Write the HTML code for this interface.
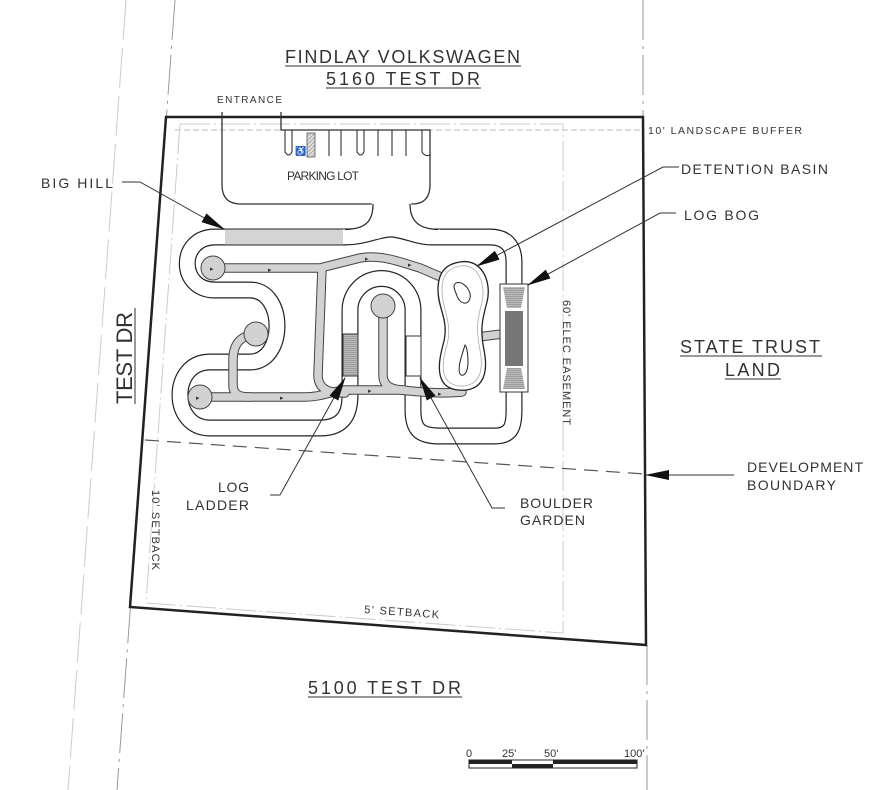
<!DOCTYPE html>
<html><head><meta charset="utf-8"><style>html,body{margin:0;padding:0;background:#fff}svg{display:block}text{font-family:"Liberation Sans",sans-serif;fill:#333}</style></head>
<body>
<svg width="885" height="790" viewBox="0 0 885 790" xmlns="http://www.w3.org/2000/svg">
<defs>
<marker id="ah" markerWidth="24" markerHeight="10" refX="23" refY="5" orient="auto" markerUnits="userSpaceOnUse"><path d="M0,0 L24,5 L0,10 Z" fill="#111"/></marker>
<pattern id="hatch" width="4" height="4" patternUnits="userSpaceOnUse"><rect width="4" height="4" fill="#ddd"/><path d="M0,4 L4,0" stroke="#999" stroke-width="0.7"/></pattern>
<pattern id="hz" width="4" height="2" patternUnits="userSpaceOnUse"><rect width="4" height="2" fill="#bbb"/><path d="M0,0.5 H4" stroke="#888" stroke-width="0.6"/></pattern>
<path id="trk" d="M345 237 L215 237 C178 237 178 290 215 290 L250 290 C286 290 286 362 250 362 L210 362 C170 362 170 428 210 428 L320 428 C345 428 350 412 350 395 L350 310 A31.5 31.5 0 0 1 413 310 L413 410 C413 430 420 436 440 436 L495 436 C512 436 514 425 514 410 L514 262 C514 245 505 237 490 237 L432 237 C418 237 405 230 392 229 C378 229 365 237 345 237 Z"/>
<path id="t1" d="M213 268 L320 268 L360 258 C380 254 400 262 420 268 L448 280"/>
<path id="t2" d="M322 268 L318 375 C318 390 330 393 345 393"/>
<path id="t3" d="M200 397 L305 397 C320 397 330 392 345 390 L400 390 C420 392 440 394 462 392"/>
<path id="t4" d="M383 308 L383 375 C383 388 395 390 405 390"/>
<path id="t5" d="M255 335 C240 335 233 345 233 360 L233 385 C233 395 240 397 250 397"/>
<path id="t6" d="M478 337 L502 334"/>
</defs>
<!-- road lines -->
<line x1="126" y1="0" x2="68" y2="790" stroke="#ccc" stroke-width="1" stroke-dasharray="40,8"/>
<line x1="175" y1="0" x2="117" y2="790" stroke="#999" stroke-width="1" stroke-dasharray="40,6,3,6"/>
<line x1="643" y1="0" x2="643" y2="117" stroke="#999" stroke-width="1" stroke-dasharray="40,6,3,6"/>
<line x1="647" y1="645" x2="647" y2="790" stroke="#999" stroke-width="1" stroke-dasharray="40,6,3,6"/>
<!-- setbacks -->
<path d="M175 130 L640 130" stroke="#bbb" stroke-width="1" stroke-dasharray="6,3" fill="none"/>
<path d="M180 124 L563 124 L563 633 L146 603 Z" stroke="#ccc" stroke-width="1" stroke-dasharray="30,4,2,4" fill="none"/>
<!-- dev boundary -->
<line x1="145" y1="440" x2="645" y2="474" stroke="#555" stroke-width="1.2" stroke-dasharray="14,8"/>
<!-- property boundary -->
<path d="M166 117 L643 117 L646 645 L130 607 Z" fill="none" stroke="#222" stroke-width="2.5"/>
<!-- parking lot -->
<path d="M222 112 L222 185 Q222 204 241 204 L412 204 Q430 204 430 185 L430 130 L281 130 L281 112" fill="none" stroke="#333" stroke-width="1.3"/>
<g stroke="#333" stroke-width="1.1" fill="none">
<path d="M285 130 V152 Q288.5 158 292 152 V130"/>
<path d="M357 130 V152 Q360.5 158 364 152 V130"/>
<path d="M422 130 V152 Q425 157 430 155"/>
<line x1="329" y1="130" x2="329" y2="156"/><line x1="341" y1="130" x2="341" y2="156"/>
<line x1="378" y1="130" x2="378" y2="156"/><line x1="392" y1="130" x2="392" y2="156"/><line x1="406" y1="130" x2="406" y2="156"/>
</g>
<rect x="307" y="133" width="8" height="24" fill="url(#hatch)" stroke="#555" stroke-width="0.8"/>
<text x="295" y="154" font-size="9">♿</text>
<text x="287" y="180" font-size="12" textLength="72">PARKING LOT</text>
<text x="217" y="103" font-size="10" textLength="65">ENTRANCE</text>
<!-- track -->
<g fill="none" stroke-linejoin="round">
<use href="#trk" stroke="#222" stroke-width="17"/>
<use href="#trk" stroke="#fff" stroke-width="14.6"/>
</g>
<path d="M372 198 L411 198 C411 222 420 229 440 229.5 L440 236 L340 236 L340 229.5 C362 229 372 222 372 198Z" fill="#fff"/>
<path d="M373 204 C373 222 365 229 345 229.5 M410 204 C410 222 420 229 438 229.5" fill="none" stroke="#222" stroke-width="1.2"/>
<rect x="225" y="229.5" width="118" height="15" fill="#d4d4d4"/>
<!-- trails -->
<g fill="none" stroke-linecap="round" stroke-linejoin="round">
<g stroke="#444" stroke-width="9.5">
<use href="#t1"/><use href="#t2"/><use href="#t3"/><use href="#t4"/><use href="#t5"/><use href="#t6"/>
</g>
<g stroke="#d2d2d2" stroke-width="7.5">
<use href="#t1"/><use href="#t2"/><use href="#t3"/><use href="#t4"/><use href="#t5"/><use href="#t6"/>
</g>
</g>
<g fill="#d2d2d2" stroke="#444" stroke-width="1"><circle cx="213" cy="268" r="12"/><circle cx="200" cy="397" r="12"/><circle cx="383" cy="306" r="12"/><circle cx="256" cy="334" r="12"/></g>
<g fill="#d2d2d2"><circle cx="213" cy="268" r="11"/><circle cx="200" cy="397" r="11"/><circle cx="383" cy="306" r="11"/><circle cx="256" cy="334" r="11"/></g>
<g font-size="7" fill="#333"><text x="210" y="271">▸</text><text x="268" y="272">▸</text><text x="365" y="261">▸</text><text x="408" y="267">▸</text><text x="196" y="400">▸</text><text x="280" y="400">▸</text><text x="368" y="393">▸</text><text x="438" y="396">▸</text></g>
<!-- log ladder & boulder -->
<rect x="343" y="334" width="15" height="42" fill="url(#hz)" stroke="#333" stroke-width="1"/>
<rect x="406" y="336" width="15" height="40" fill="#fff" stroke="#333" stroke-width="1"/>
<!-- detention basin -->
<path d="M460 262 C482 258 492 282 487 302 C482 320 480 330 484 350 C490 380 478 392 458 390 C438 388 436 370 443 345 C450 320 438 310 438 290 C438 272 446 264 460 262 Z" fill="#fff" stroke="#222" stroke-width="1.3"/>
<path d="M460 266 C478 263 486 284 482 302 C477 320 476 330 480 350 C485 376 476 387 459 386 C442 384 440 368 447 345 C453 322 442 310 442 290 C442 274 449 268 460 266 Z" fill="none" stroke="#aaa" stroke-width="0.8"/>
<path d="M456 283 C462 280 472 290 470 298 C468 306 460 304 457 296 C455 290 452 286 456 283Z" fill="none" stroke="#222" stroke-width="1"/>
<path d="M465 345 C462 355 457 368 460 374 C464 378 468 372 468 362 C468 352 466 345 465 345Z" fill="none" stroke="#222" stroke-width="1"/>
<!-- log bog -->
<rect x="500" y="284" width="28" height="108" fill="#fff" stroke="#333" stroke-width="1"/>
<path d="M503 287 L525 287 L521 308 L507 308 Z" fill="url(#hz)"/>
<rect x="505" y="311" width="18" height="55" fill="#777"/>
<path d="M507 368 L521 368 L525 389 L503 389 Z" fill="url(#hz)"/>
<!-- leaders -->
<g stroke="#333" stroke-width="1" fill="none" marker-end="url(#ah)">
<path d="M122 182 L140 182 L224 229"/>
<path d="M679 167 L663 167 L477 266"/>
<path d="M676 213 L660 213 L528 285"/>
<path d="M270 495 L280 495 L345 378"/>
<path d="M505 508 L492 508 L420 378"/>
<path d="M734 475 L646 475"/>
</g>
<!-- labels -->
<text x="285" y="63" font-size="18" textLength="235">FINDLAY VOLKSWAGEN</text>
<line x1="285" y1="66" x2="521" y2="66" stroke="#333" stroke-width="1"/>
<text x="326" y="85" font-size="18" textLength="154">5160 TEST DR</text>
<line x1="326" y1="88" x2="481" y2="88" stroke="#333" stroke-width="1"/>
<text x="648" y="134" font-size="10.5" textLength="154">10' LANDSCAPE BUFFER</text>
<text x="681" y="174" font-size="14" textLength="147">DETENTION BASIN</text>
<text x="684" y="220" font-size="14" textLength="75">LOG BOG</text>
<text x="41" y="188" font-size="14" textLength="72">BIG HILL</text>
<text x="680" y="353" font-size="18" textLength="140">STATE TRUST</text>
<line x1="680" y1="356" x2="822" y2="356" stroke="#333" stroke-width="1"/>
<text x="725" y="376" font-size="18" textLength="55">LAND</text>
<line x1="725" y1="379" x2="781" y2="379" stroke="#333" stroke-width="1"/>
<text x="747" y="472" font-size="14" textLength="116">DEVELOPMENT</text>
<text x="747" y="490" font-size="14" textLength="89">BOUNDARY</text>
<text x="218" y="492" font-size="14" textLength="31">LOG</text>
<text x="186" y="510" font-size="14" textLength="63">LADDER</text>
<text x="520" y="508" font-size="14" textLength="73">BOULDER</text>
<text x="520" y="525" font-size="14" textLength="65">GARDEN</text>
<text x="308" y="694" font-size="18" textLength="153">5100 TEST DR</text>
<line x1="308" y1="697" x2="462" y2="697" stroke="#333" stroke-width="1"/>
<text transform="translate(132,404) rotate(-90)" font-size="22" textLength="92">TEST DR</text>
<line x1="135" y1="404" x2="135" y2="308" stroke="#333" stroke-width="1"/>
<text transform="translate(563,300) rotate(90)" font-size="11" textLength="125">60' ELEC EASEMENT</text>
<text transform="translate(152,490) rotate(90)" font-size="11" textLength="80">10' SETBACK</text>
<text transform="translate(364,613) rotate(4)" font-size="11" textLength="75">5' SETBACK</text>
<!-- scale -->
<g font-size="11"><text x="466" y="757">0</text><text x="502" y="757">25'</text><text x="544" y="757">50'</text><text x="624" y="757">100'</text></g>
<rect x="469" y="760" width="168" height="8" fill="#fff" stroke="#222" stroke-width="1"/>
<rect x="469" y="760" width="43" height="4" fill="#222"/><rect x="512" y="764" width="41" height="4" fill="#222"/><rect x="553" y="760" width="84" height="4" fill="#222"/>
</svg>
</body></html>
